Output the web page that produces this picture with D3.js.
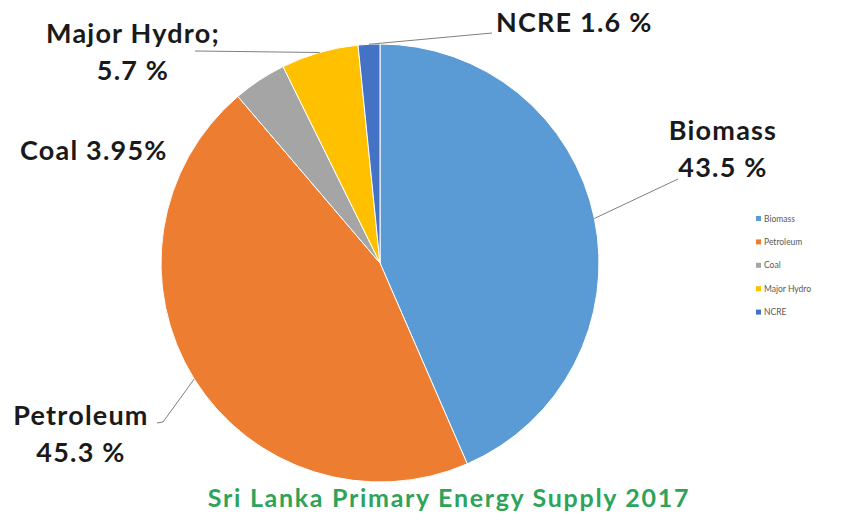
<!DOCTYPE html>
<html>
<head>
<meta charset="utf-8">
<script src="https://cdn.jsdelivr.net/npm/d3@7"></script>
<style>
  body { margin: 0; background: white; }
  svg text { font-family: Lato, "Open Sans", sans-serif; }
</style>
</head>
<body>
<svg id="svg" width="841" height="519"></svg>
<script>
var categories = ["Biomass", "Petroleum", "Coal", "Major Hydro", "NCRE"];
var values = [43.5, 45.3, 3.95, 5.7, 1.6];
var colors = ["#5b9bd5", "#ed7d31", "#a5a5a5", "#ffc000", "#4472c4"];
// label text lines, as printed on the chart
var labelLines = [["Biomass", "43.5 %"], ["Petroleum", "45.3 %"], ["Coal 3.95%"], ["Major Hydro;", "5.7 %"], ["NCRE 1.6 %"]];

var width = 841, height = 519;
var cx = 380, cy = 263, radius = 219;
const svg = d3.select('#svg');

var data = categories.map(function(c, i) { return {name: c, value: values[i], color: colors[i], lines: labelLines[i]}; });

var pie = d3.pie().sort(null).value(function(d) { return d.value; });
var arc = d3.arc().innerRadius(0).outerRadius(radius);
var arcs = pie(data);

var g = svg.append("g").attr("transform", "translate(" + cx + "," + cy + ")");

g.selectAll("path.slice")
  .data(arcs)
  .enter().append("path")
  .attr("class", "slice")
  .attr("d", arc)
  .style("fill", function(d) { return d.data.color; })
  .style("stroke", "white")
  .style("stroke-width", 1);

// where each label sits (x, first baseline, anchor) and the elbow of its leader line
var labelPos = {
  "Biomass":     {x: 723, y: 140, anchor: "middle", line: [[678, 179]]},
  "Petroleum":   {x: 81,  y: 425, anchor: "middle", line: [[163, 422], [157, 423]]},
  "Coal":        {x: 20,  y: 160, anchor: "start", line: null},
  "Major Hydro": {x: 133, y: 43,  anchor: "middle", line: [[195, 51]]},
  "NCRE":        {x: 496, y: 32,  anchor: "start", line: [[492, 33]]}
};

arcs.forEach(function(a) {
  var p = labelPos[a.data.name];
  var mid = (a.startAngle + a.endAngle) / 2;
  if (p.line) {
    var start = [cx + radius * Math.sin(mid), cy - radius * Math.cos(mid)];
    var pts = [start].concat(p.line);
    svg.append("path")
      .attr("d", d3.line()(pts))
      .style("fill", "none")
      .style("stroke", "#7f7f7f")
      .style("stroke-width", 1);
  }
  var t = svg.append("text")
    .attr("x", p.x)
    .attr("y", p.y)
    .attr("text-anchor", p.anchor)
    .style("font-size", "27px")
    .style("font-weight", "bold")
    .style("letter-spacing", "1.2px")
    .style("fill", "#1a1a1a");
  a.data.lines.forEach(function(line, i) {
    t.append("tspan").attr("x", p.x).attr("dy", i === 0 ? 0 : 37).text(line);
  });
});

// legend
var legend = svg.append("g").attr("transform", "translate(756,219)");
var legendRow = d3.scaleBand().domain(categories).range([0, 117]);
categories.forEach(function(c, i) {
  var row = legend.append("g").attr("transform", "translate(0," + legendRow(c) + ")");
  row.append("rect").attr("x", 0).attr("y", -3).attr("width", 5).attr("height", 5).style("fill", colors[i]);
  row.append("text").attr("x", 8).attr("y", 2.5).text(c)
    .style("font-size", "8.5px").style("fill", "#595959");
});

svg.append("text")
  .attr("x", 449)
  .attr("y", 507)
  .attr("text-anchor", "middle")
  .text("Sri Lanka Primary Energy Supply 2017")
  .style("font-size", "25px")
  .style("font-weight", "bold")
  .style("letter-spacing", "1.7px")
  .style("fill", "#2ea35a");
</script>
</body>
</html>
